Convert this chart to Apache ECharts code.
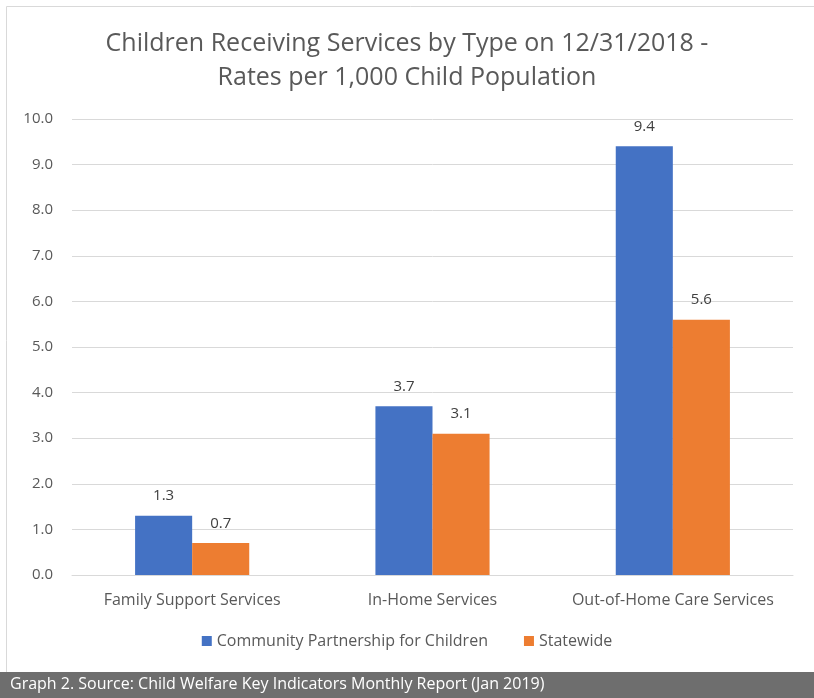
<!DOCTYPE html>
<html><head><meta charset="utf-8">
<script src="https://cdn.jsdelivr.net/npm/echarts@6/dist/echarts.min.js"></script>
<style>html,body{margin:0;padding:0;background:#fff}#c{width:814px;height:698px}</style>
</head><body><div id="c"></div>
<script>
const categories = ['Family Support Services', 'In-Home Services', 'Out-of-Home Care Services'];
const communityValues = [1.3, 3.7, 9.4];
const statewideValues = [0.7, 3.1, 5.6];
const seriesNames = ['Community Partnership for Children', 'Statewide'];
const titleText = 'Children Receiving Services by Type on 12/31/2018 -\nRates per 1,000 Child Population';
const footerText = 'Graph 2. Source: Child Welfare Key Indicators Monthly Report (Jan 2019)';

const FONT = '"Open Sans", "Noto Sans", sans-serif';
const chart = echarts.init(document.getElementById('c'), null, {renderer: 'canvas'});
const lbl = {show: true, position: 'top', distance: 12, color: '#404040', fontSize: 15, fontFamily: FONT, formatter: p => p.value.toFixed(1)};
chart.setOption({
  animation: false,
  textStyle: {fontFamily: FONT},
  title: {text: titleText, left: 'center', top: 22, textStyle: {fontSize: 25, fontWeight: 'normal', color: '#595959', lineHeight: 34, fontFamily: FONT}},
  legend: {bottom: 44, left: 'center', itemWidth: 10, itemHeight: 10, itemGap: 36, icon: 'rect', textStyle: {fontSize: 16, color: '#595959', fontFamily: FONT}, data: seriesNames},
  grid: {left: 72, right: 21, top: 119, bottom: 123},
  xAxis: {type: 'category', data: categories, axisTick: {show: false}, axisLine: {lineStyle: {color: '#d9d9d9'}},
    axisLabel: {fontSize: 16, color: '#595959', margin: 17, fontFamily: FONT, interval: 0, hideOverlap: false}},
  yAxis: {type: 'value', min: 0, max: 10, interval: 1, axisLine: {show: false}, axisTick: {show: false},
    axisLabel: {fontSize: 15, color: '#595959', margin: 19, formatter: v => v.toFixed(1), fontFamily: FONT},
    splitLine: {lineStyle: {color: '#d9d9d9'}}},
  series: [
    {name: seriesNames[0], type: 'bar', data: communityValues, itemStyle: {color: '#4472c4'}, barGap: '0%', barCategoryGap: '52.5%', label: lbl},
    {name: seriesNames[1], type: 'bar', data: statewideValues, itemStyle: {color: '#ed7d31'}, label: lbl}
  ],
  graphic: [
    {type: 'rect', left: 4, top: 4, shape: {width: 810, height: 668}, style: {fill: 'none', stroke: '#d9d9d9', lineWidth: 1}, silent: true},
    {type: 'rect', left: 0, top: 672, shape: {width: 814, height: 26}, style: {fill: '#6e6e6e'}, silent: true},
    {type: 'text', left: 10, top: 676, style: {text: footerText, fill: '#ffffff', fontSize: 16, fontFamily: FONT}, silent: true}
  ]
});
</script></body></html>
